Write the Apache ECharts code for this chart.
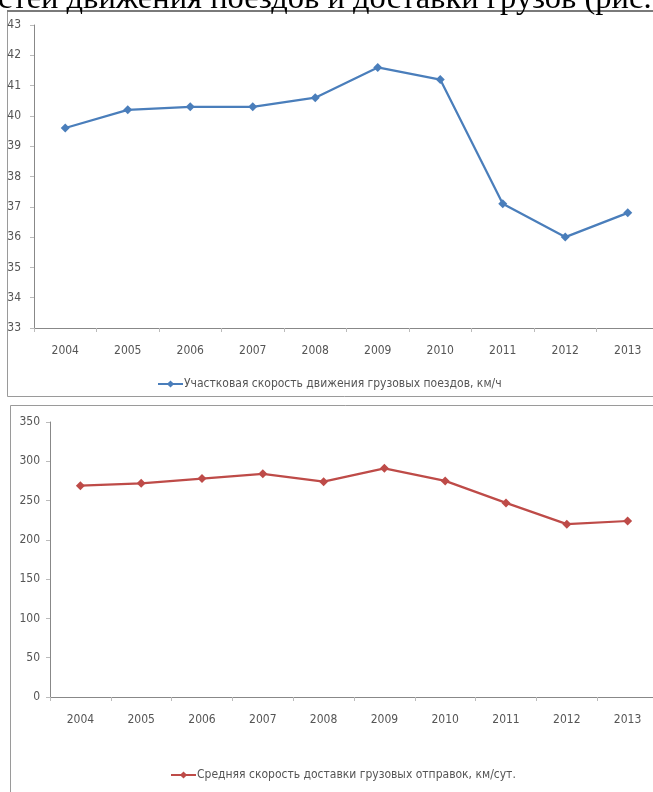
<!DOCTYPE html>
<html>
<head>
<meta charset="utf-8">
<script src="https://cdn.jsdelivr.net/npm/echarts@6/dist/echarts.min.js"></script>
<style>
  html, body { margin: 0; padding: 0; background: #fff; overflow: hidden; width: 653px; height: 792px; }
  #caption { position: absolute; z-index: 5; left: -2px; top: -19px; font: 32.5px "Liberation Serif", "Times New Roman", serif; line-height: 32.5px; color: #000; white-space: nowrap; }
  #chart { position: absolute; z-index: 1; left: 0; top: 0; width: 680px; height: 792px; }
</style>
</head>
<body>
<div id="caption">стей движения поездов и доставки грузов (рис.</div>
<div id="chart"></div>
<script>
// Years on both category axes
const years = ['2004', '2005', '2006', '2007', '2008', '2009', '2010', '2011', '2012', '2013'];

// Sectional speed of freight trains, km/h
const sectionName = 'Участковая скорость движения грузовых поездов, км/ч';
const sectionSpeed = [39.6, 40.2, 40.3, 40.3, 40.6, 41.6, 41.2, 37.1, 36.0, 36.8];

// Average delivery speed of freight consignments, km/day
const deliveryName = 'Средняя скорость доставки грузовых отправок, км/сут.';
const deliverySpeed = [269, 272, 278, 284, 274, 291, 275, 247, 220, 224];

// Value axis ranges
const sectionAxis = { min: 33, max: 43, interval: 1 };
const deliveryAxis = { min: 0, max: 350, interval: 50 };

const labelFont = '"DejaVu Sans Condensed", "Liberation Sans Narrow", sans-serif';
const axisGray = '#888888';
const textGray = '#555555';

const chart = echarts.init(document.getElementById('chart'), null, { renderer: 'canvas' });

function catAxis(gridIndex) {
  return {
    type: 'category', gridIndex, data: years, boundaryGap: true,
    axisLine: { show: true, lineStyle: { color: axisGray, width: 1 } },
    axisTick: { show: true, length: 4, inside: false, lineStyle: { color: '#bbbbbb' } },
    axisLabel: { margin: 17, fontFamily: labelFont, fontSize: 12, color: textGray },
    splitLine: { show: false }
  };
}

function valAxis(gridIndex, range, margin) {
  return {
    type: 'value', gridIndex, min: range.min, max: range.max, interval: range.interval,
    axisLine: { show: true, lineStyle: { color: axisGray, width: 1 } },
    axisTick: { show: true, length: 4, lineStyle: { color: '#bbbbbb' } },
    axisLabel: { margin, fontFamily: labelFont, fontSize: 12, color: textGray },
    splitLine: { show: false }
  };
}

chart.setOption({
  animation: false,
  backgroundColor: 'transparent',
  graphic: [
    // chart frames
    { type: 'rect', silent: true, z: -1, shape: { x: 7.5, y: 11.5, width: 700, height: 385 },
      style: { fill: 'transparent', stroke: '#9a9a9a', lineWidth: 1 } },
    { type: 'line', silent: true, z: -1, shape: { x1: 7, y1: 11, x2: 700, y2: 11 },
      style: { stroke: '#7a7a7a', lineWidth: 2 } },
    { type: 'rect', silent: true, z: -1, shape: { x: 10.5, y: 405.5, width: 700, height: 420 },
      style: { fill: 'transparent', stroke: '#9a9a9a', lineWidth: 1 } }
  ],
  grid: [
    { left: 34, top: 25, width: 625, height: 303 },
    { left: 50, top: 422, width: 608, height: 275 }
  ],
  xAxis: [catAxis(0), catAxis(1)],
  yAxis: [valAxis(0, sectionAxis, 13), valAxis(1, deliveryAxis, 10)],
  legend: [
    { data: [sectionName], left: 157, top: 378, padding: 0, itemWidth: 25, itemHeight: 9, itemGap: 4,
      textStyle: { fontFamily: labelFont, fontSize: 12, color: textGray, padding: [0, 0, 0, -4] } },
    { data: [deliveryName], left: 170, top: 769, padding: 0, itemWidth: 25, itemHeight: 9, itemGap: 4,
      textStyle: { fontFamily: labelFont, fontSize: 12, color: textGray, padding: [0, 0, 0, -4] } }
  ],
  series: [
    { name: sectionName, type: 'line', xAxisIndex: 0, yAxisIndex: 0, data: sectionSpeed,
      symbol: 'diamond', symbolSize: 9, color: '#4a7ebb',
      lineStyle: { color: '#4a7ebb', width: 2.25 }, itemStyle: { color: '#4a7ebb' } },
    { name: deliveryName, type: 'line', xAxisIndex: 1, yAxisIndex: 1, data: deliverySpeed,
      symbol: 'diamond', symbolSize: 9, color: '#be4b48',
      lineStyle: { color: '#be4b48', width: 2.25 }, itemStyle: { color: '#be4b48' } }
  ]
});
</script>
</body>
</html>
